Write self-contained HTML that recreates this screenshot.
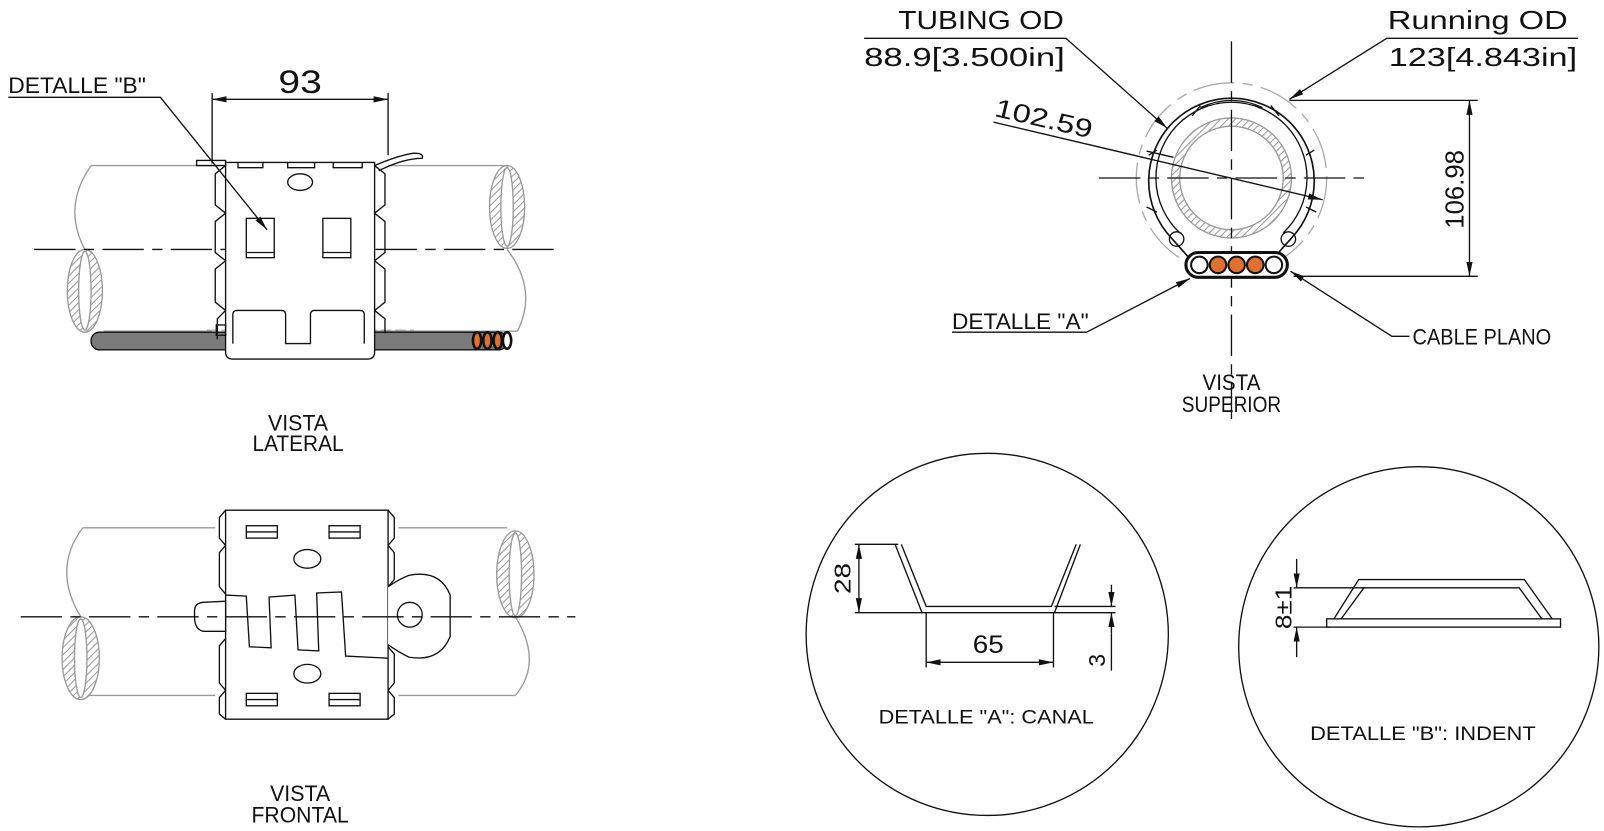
<!DOCTYPE html>
<html><head><meta charset="utf-8"><style>
html,body{margin:0;padding:0;background:#fff;}
svg{display:block;}
text{font-family:"Liberation Sans",sans-serif;fill:#111;}
</style></head><body>
<svg width="1604" height="831" viewBox="0 0 1550 803" preserveAspectRatio="none" xmlns="http://www.w3.org/2000/svg">
<defs>
<pattern id="h" width="5" height="5" patternUnits="userSpaceOnUse" patternTransform="rotate(45)">
<rect width="5" height="5" fill="#fff"/><line x1="0" y1="0" x2="0" y2="5" stroke="#999" stroke-width="2"/></pattern>
<marker id="a" markerWidth="14" markerHeight="8" refX="14" refY="4" orient="auto-start-reverse" markerUnits="userSpaceOnUse"><path d="M0,1 L14,4 L0,7 Z" fill="#111"/></marker>
</defs>
<g fill="none" stroke="#111" stroke-width="1.3">

<!-- ===== VISTA LATERAL ===== -->
<g stroke="#999" stroke-width="1.3">
<path d="M88,160 H205 M375,160 H490 M100,320 H205 M362,320 H500"/>
<path d="M88,160 Q60,200 82,241"/>
<path d="M490,241 Q520,280 500,320"/>
</g>
<ellipse cx="82" cy="281" rx="17" ry="40" fill="url(#h)" stroke="#999"/>
<ellipse cx="82" cy="281" rx="6" ry="38" fill="#fff" stroke="#999"/>
<ellipse cx="490" cy="200" rx="17" ry="40" fill="url(#h)" stroke="#999"/>
<ellipse cx="490" cy="200" rx="6" ry="38" fill="#fff" stroke="#999"/>
<line x1="33" y1="241" x2="541" y2="241" stroke-dasharray="40,8,10,8"/>
<!-- cable -->
<rect x="88" y="321" width="140" height="17" rx="8" fill="#7a7a7a"/>
<rect x="355" y="321" width="135" height="17" rx="8" fill="#7a7a7a"/>
<g stroke-width="2.5"><ellipse cx="461" cy="329" rx="4" ry="8" fill="#e0702f"/><ellipse cx="471" cy="329" rx="4" ry="8" fill="#e0702f"/><ellipse cx="481" cy="329" rx="4" ry="8" fill="#e0702f"/><ellipse cx="490" cy="329" rx="4" ry="8" fill="#fff"/></g>
<line x1="200" y1="319" x2="400" y2="319" stroke="#aaa" stroke-dasharray="10,4"/>
<!-- clamp -->
<path d="M218,157 H362 V340 Q362,347 355,347 H225 Q218,347 218,340 Z" fill="#fff"/>
<path d="M218,160 L208,168 V198 L218,206 M218,206 L208,214 V244 L218,252 M218,252 L208,260 V292 L218,300 M218,300 L210,308 V328" />
<path d="M362,160 L372,168 V198 L362,206 M362,206 L372,214 V244 L362,252 M362,252 L372,260 V292 L362,300 M362,300 L372,308 V322"/>
<path d="M230,157 v5 h24 v-5 M278,157 v5 h26 v-5 M322,157 v5 h28 v-5"/>
<path d="M190,155 H218 V160 H190 Z"/>
<path d="M362,160 Q385,150 400,148 Q410,148 408,153 Q390,153 366,165"/>
<ellipse cx="290" cy="176" rx="12" ry="8"/>
<rect x="238" y="211" width="27" height="38"/><line x1="238" y1="244" x2="265" y2="244"/>
<rect x="312" y="211" width="27" height="38"/><line x1="312" y1="244" x2="339" y2="244"/>
<path d="M225,332 V304 Q225,300 229,300 H272 Q276,300 276,304 V332 H300 V304 Q300,300 304,300 H348 Q352,300 352,304 V332"/>
<rect x="209" y="314" width="9" height="10"/>
<!-- dim 93 -->
<line x1="205" y1="90" x2="205" y2="158"/><line x1="375" y1="90" x2="375" y2="150"/>
<line x1="205" y1="96" x2="375" y2="96" marker-start="url(#a)" marker-end="url(#a)"/>
<path d="M8,94 H155 L258,222" marker-end="url(#a)"/>

<!-- ===== VISTA FRONTAL ===== -->
<g stroke="#999">
<path d="M80,510 H208 M385,510 H490 M80,672 H208 M385,672 H498"/>
<path d="M80,510 Q50,550 78,596"/>
<path d="M498,596 Q525,640 498,672"/>
</g>
<ellipse cx="78" cy="636" rx="18" ry="40" fill="url(#h)" stroke="#999"/>
<ellipse cx="78" cy="636" rx="6" ry="38" fill="#fff" stroke="#999"/>
<ellipse cx="498" cy="555" rx="18" ry="42" fill="url(#h)" stroke="#999"/>
<ellipse cx="498" cy="555" rx="6" ry="40" fill="#fff" stroke="#999"/>
<path d="M218,493 H375 V695 H218 Z" fill="#fff"/>
<path d="M218,493 L212,500 V520 L218,527 M218,527 L212,534 V567 L218,574 M218,617 L212,624 V660 L218,667 M218,667 L212,674 V690 L218,695"/>
<path d="M375,493 L381,500 V520 L375,527 M375,527 L381,534 V560 L375,567 M375,625 L381,632 V660 L375,667 M375,667 L381,674 V690 L375,695"/>
<path d="M188,590 Q188,583 196,582 L218,581 V610 L196,610 Q188,608 188,596 Z" fill="#fff"/>
<path d="M375,567 Q385,560 395,556 Q425,550 435,575 V615 Q425,640 395,635 Q385,630 375,623" fill="#fff"/>
<circle cx="396" cy="594" r="12"/>
<path d="M218,575 L238,576 L241,625 L262,626 L260,577 L285,575 L288,628 L308,629 L306,573 L330,572 L334,634 L375,636"/>
<line x1="20" y1="596" x2="556" y2="596" stroke-dasharray="40,8,10,8"/>
<g><rect x="238" y="508" width="30" height="12"/><line x1="238" y1="514" x2="268" y2="514"/>
<rect x="318" y="508" width="30" height="12"/><line x1="318" y1="514" x2="348" y2="514"/>
<rect x="238" y="670" width="30" height="12"/><line x1="238" y1="676" x2="268" y2="676"/>
<rect x="318" y="670" width="30" height="12"/><line x1="318" y1="676" x2="348" y2="676"/></g>
<ellipse cx="297" cy="540" rx="13" ry="9"/><ellipse cx="297" cy="651" rx="13" ry="9"/>

<!-- ===== VISTA SUPERIOR ===== -->
<circle cx="1190" cy="172" r="92" stroke="#aaa" stroke-dasharray="40,8,10,8"/>
<circle cx="1190" cy="172" r="58" fill="url(#h)" stroke="#999"/>
<circle cx="1190" cy="172" r="50" fill="#fff" stroke="#999"/>
<path d="M1148,248 L1132,230 A80,80 0 1 1 1248,230 L1232,248" stroke-width="1.6"/>
<path d="M1140,225 A73,73 0 1 1 1240,225"/>
<path d="M1152,112 L1160,102 M1228,102 L1236,112 M1262,150 L1270,145 M1110,150 L1118,145 M1262,200 L1272,205 M1108,200 L1118,205"/>
<path d="M1160,104 Q1190,90 1220,104"/>
<circle cx="1137" cy="231" r="7"/><circle cx="1245" cy="231" r="7"/>
<line x1="1190" y1="40" x2="1190" y2="405" stroke-dasharray="40,8,10,8"/>
<line x1="1062" y1="172" x2="1325" y2="172" stroke-dasharray="40,8,10,8"/>
<rect x="1146" y="244" width="98" height="24" rx="12" fill="#fff" stroke-width="3"/>
<g stroke-width="2"><circle cx="1159" cy="256" r="8" fill="#fff"/><circle cx="1177" cy="256" r="8" fill="#e0702f"/><circle cx="1195" cy="256" r="8" fill="#e0702f"/><circle cx="1213" cy="256" r="8" fill="#e0702f"/><circle cx="1231" cy="256" r="8" fill="#fff"/></g>
<path d="M835,37 H1030 L1128,124" marker-end="url(#a)"/>
<path d="M1525,37 H1340 L1246,96" marker-end="url(#a)"/>
<path d="M960,118 L1278,193" marker-end="url(#a)"/>
<path d="M1134,152 L1108,146"/>
<line x1="1246" y1="97" x2="1428" y2="97"/><line x1="1250" y1="267" x2="1428" y2="267"/>
<line x1="1420" y1="97" x2="1420" y2="267" marker-start="url(#a)" marker-end="url(#a)"/>
<path d="M920,321 H1050 L1150,269" marker-end="url(#a)"/>
<path d="M1362,325 H1345 L1247,262" marker-end="url(#a)"/>

<!-- ===== DETALLE A ===== -->
<circle cx="954" cy="613" r="175"/>
<path d="M865,526 L891,592 H1019 L1044,526"/>
<path d="M871,526 L895,586 H1016 L1040,526"/>
<line x1="826" y1="526" x2="868" y2="526"/><line x1="826" y1="592" x2="891" y2="592"/>
<line x1="830" y1="526" x2="830" y2="592" marker-start="url(#a)" marker-end="url(#a)"/>
<line x1="895" y1="592" x2="895" y2="645"/><line x1="1018" y1="592" x2="1018" y2="645"/>
<line x1="895" y1="640" x2="1018" y2="640" marker-start="url(#a)" marker-end="url(#a)"/>
<line x1="1019" y1="586" x2="1078" y2="586"/><line x1="1019" y1="592" x2="1078" y2="592"/>
<line x1="1074" y1="565" x2="1074" y2="586" marker-end="url(#a)"/>
<line x1="1074" y1="612" x2="1074" y2="592" marker-end="url(#a)"/>
<line x1="1074" y1="612" x2="1074" y2="648"/>

<!-- ===== DETALLE B ===== -->
<circle cx="1371" cy="625" r="174"/>
<rect x="1282" y="598" width="226" height="8"/>
<path d="M1289,598 L1313,560 H1473 L1500,598"/>
<path d="M1296,598 L1318,568 H1468 L1490,598"/>
<line x1="1250" y1="568" x2="1320" y2="568"/><line x1="1250" y1="606" x2="1285" y2="606"/>
<line x1="1253" y1="540" x2="1253" y2="568" marker-end="url(#a)"/>
<line x1="1253" y1="635" x2="1253" y2="606" marker-end="url(#a)"/>
</g>

<!-- TEXT -->
<text x="8" y="90" font-size="21" textLength="133" lengthAdjust="spacingAndGlyphs">DETALLE "B"</text>
<text x="290" y="90" font-size="31" text-anchor="middle" textLength="42" lengthAdjust="spacingAndGlyphs">93</text>
<text x="288" y="416" font-size="21" text-anchor="middle" textLength="58" lengthAdjust="spacingAndGlyphs">VISTA</text>
<text x="288" y="436" font-size="21" text-anchor="middle" textLength="88" lengthAdjust="spacingAndGlyphs">LATERAL</text>
<text x="290" y="774" font-size="21" text-anchor="middle" textLength="58" lengthAdjust="spacingAndGlyphs">VISTA</text>
<text x="290" y="795" font-size="21" text-anchor="middle" textLength="94" lengthAdjust="spacingAndGlyphs">FRONTAL</text>
<text x="868" y="28" font-size="25" textLength="160" lengthAdjust="spacingAndGlyphs">TUBING OD</text>
<text x="835" y="64" font-size="25" textLength="194" lengthAdjust="spacingAndGlyphs">88.9[3.500in]</text>
<text x="1341" y="28" font-size="25" textLength="174" lengthAdjust="spacingAndGlyphs">Running OD</text>
<text x="1342" y="64" font-size="25" textLength="182" lengthAdjust="spacingAndGlyphs">123[4.843in]</text>
<text x="0" y="0" font-size="25" transform="translate(960,112) rotate(13)" textLength="96" lengthAdjust="spacingAndGlyphs">102.59</text>
<text x="0" y="0" font-size="25" text-anchor="middle" transform="translate(1414,183) rotate(-90)" textLength="76" lengthAdjust="spacingAndGlyphs">106.98</text>
<text x="920" y="318" font-size="21" textLength="132" lengthAdjust="spacingAndGlyphs">DETALLE "A"</text>
<text x="1365" y="333" font-size="21" textLength="134" lengthAdjust="spacingAndGlyphs">CABLE PLANO</text>
<text x="1190" y="377" font-size="21" text-anchor="middle" textLength="56" lengthAdjust="spacingAndGlyphs">VISTA</text>
<text x="1190" y="398" font-size="21" text-anchor="middle" textLength="96" lengthAdjust="spacingAndGlyphs">SUPERIOR</text>
<text x="0" y="0" font-size="22" text-anchor="middle" transform="translate(822,559) rotate(-90)" textLength="30" lengthAdjust="spacingAndGlyphs">28</text>
<text x="955" y="631" font-size="24" text-anchor="middle" textLength="30" lengthAdjust="spacingAndGlyphs">65</text>
<text x="0" y="0" font-size="22" text-anchor="middle" transform="translate(1068,638) rotate(-90)">3</text>
<text x="953" y="699" font-size="19" text-anchor="middle" textLength="208" lengthAdjust="spacingAndGlyphs">DETALLE "A": CANAL</text>
<text x="0" y="0" font-size="22" text-anchor="middle" transform="translate(1248,587) rotate(-90)" textLength="42" lengthAdjust="spacingAndGlyphs">8±1</text>
<text x="1375" y="715" font-size="19" text-anchor="middle" textLength="218" lengthAdjust="spacingAndGlyphs">DETALLE "B": INDENT</text>
</svg>
</body></html>
